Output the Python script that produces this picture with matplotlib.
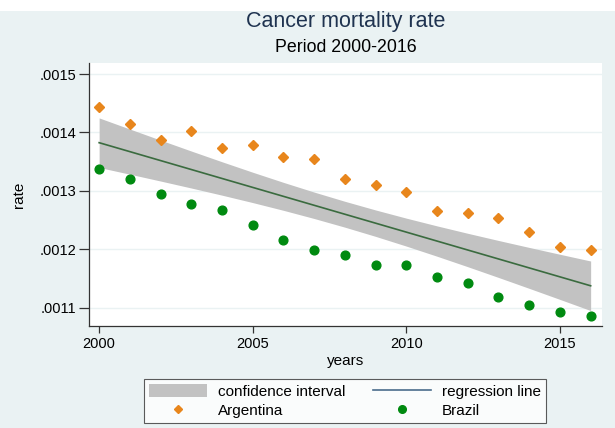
import numpy as np
import matplotlib
matplotlib.use("Agg")
import matplotlib.pyplot as plt
import matplotlib.patches as mpatches
from matplotlib.lines import Line2D

plt.rcParams['font.family'] = ['Liberation Sans', 'DejaVu Sans']

# data
years = np.arange(2000, 2017)
argentina = [.001444, .001414, .001387, .001402, .001374, .001378, .001358, .001354, .001320,
             .001310, .001298, .001266, .001262, .001253, .001229, .001204, .001199]
brazil = [.001338, .001320, .001295, .001278, .001267, .001241, .001215, .001199, .001190,
          .001173, .001173, .001153, .001142, .001118, .001104, .001092, .001086]
yticks = [.0011, .0012, .0013, .0014, .0015]
ytick_labels = ['.0011', '.0012', '.0013', '.0014', '.0015']
xticks = [2000, 2005, 2010, 2015]

bg = '#EAF2F3'
c_arg = '#E8861C'
c_bra = '#008A10'

# pooled linear fit with 95% CI of the prediction (like Stata lfitci)
x_all = np.concatenate([years, years]).astype(float)
y_all = np.concatenate([argentina, brazil])
slope, intercept = np.polyfit(x_all, y_all, 1)
resid = y_all - (slope * x_all + intercept)
n = len(x_all)
s = np.sqrt(np.sum(resid ** 2) / (n - 2))
sxx = np.sum((x_all - x_all.mean()) ** 2)
fit = slope * years + intercept
se = s * np.sqrt(1.0 / n + (years - x_all.mean()) ** 2 / sxx)
t_crit = 2.0369  # t(0.975, df=32)
lo, hi = fit - t_crit * se, fit + t_crit * se

W, H = 615, 428
fig = plt.figure(figsize=(W / 100, H / 100), dpi=100, facecolor='white')
fig.patches.append(mpatches.Rectangle((0, 0), 1, 1 - 11 / H, transform=fig.transFigure,
                                      facecolor=bg, edgecolor='none', zorder=-10))

ax = fig.add_axes([89 / W, 1 - 326 / H, 513 / W, 263 / H])
ax.set_facecolor('white')

ax.fill_between(years, lo, hi, color='#C2C2C2', linewidth=0, zorder=2)
ax.plot(years, fit, color='#3A6B3F', linewidth=1.2, zorder=3)
ax.plot(years, argentina, linestyle='none', marker='D', markersize=5.2,
        color=c_arg, markeredgecolor=c_arg, zorder=4)
ax.plot(years, brazil, linestyle='none', marker='o', markersize=6.3,
        color=c_bra, markeredgecolor=c_bra, zorder=4)

ax.set_xlim(1999.67, 2016.37)
ax.set_ylim(.0010684, .001519)
ax.set_yticks(yticks)
ax.set_yticklabels(ytick_labels)
ax.set_xticks(xticks)
ax.grid(axis='y', color=bg, linewidth=1.0, zorder=0)
ax.set_axisbelow(True)

for side in ['top', 'right']:
    ax.spines[side].set_visible(False)
for side in ['left', 'bottom']:
    ax.spines[side].set_color('#333333')
    ax.spines[side].set_linewidth(0.9)
ax.tick_params(axis='y', length=7, width=0.9, color='#333333', labelsize=10.5, pad=2)
ax.tick_params(axis='x', length=5, width=0.9, color='#333333', labelsize=10.5, pad=3)

ax.set_xlabel('years', fontsize=11, labelpad=2)
ax.set_ylabel('rate', fontsize=11, labelpad=10)

fig.text(345.5 / W, 1 - 22 / H, 'Cancer mortality rate', ha='center', va='center',
         fontsize=15.5, color='#1F3350')
fig.text(345.5 / W, 1 - 48 / H, 'Period 2000-2016', ha='center', va='center',
         fontsize=12.8, color='black')

handles = [
    mpatches.Patch(facecolor='#C2C2C2', edgecolor='none', label='confidence interval'),
    Line2D([], [], linestyle='none', marker='D', markersize=4, color=c_arg, label='Argentina'),
    Line2D([], [], color='#4A6D8C', linewidth=1.2, label='regression line'),
    Line2D([], [], linestyle='none', marker='o', markersize=5.5, color=c_bra, label='Brazil'),
]
leg = fig.legend(handles=handles, ncol=2, loc='center', bbox_to_anchor=(345 / W, 1 - 401 / H),
                 frameon=True, fancybox=False, fontsize=11, handlelength=3.8,
                 handleheight=0.9, handletextpad=0.7, columnspacing=1.8, labelspacing=0.3,
                 borderpad=0.35)
leg.get_frame().set_edgecolor('#333333')
leg.get_frame().set_linewidth(0.8)
leg.get_frame().set_facecolor('white')

fig.savefig('out.png', dpi=100, facecolor=fig.get_facecolor())
